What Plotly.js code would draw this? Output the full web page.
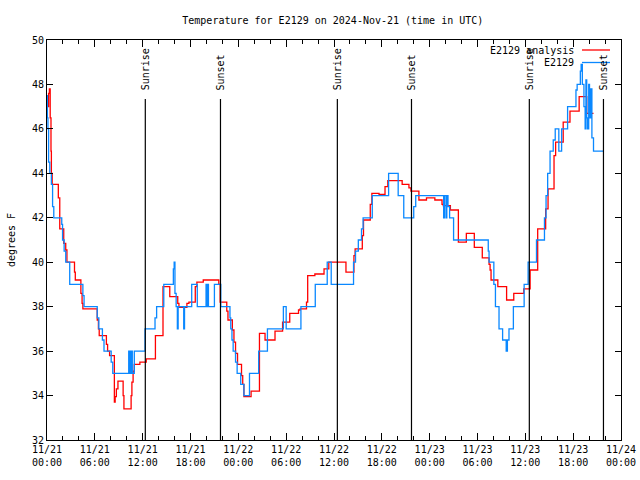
<!DOCTYPE html>
<html>
<head>
<meta charset="utf-8">
<script src="https://cdn.plot.ly/plotly-3.0.1.min.js"></script>
<style>html,body{margin:0;padding:0;background:#fff;}#chart{width:640px;height:480px;}</style>
</head>
<body>
<div id="chart"></div>
<script>
// Hours after 2024-11-21 00:00 UTC and temperatures (deg F), step data
const anaHours = [0.05,0.20,0.30,0.40,0.50,0.55,0.65,1.42,1.60,2.10,2.35,2.50,3.45,3.55,4.25,4.40,4.50,6.30,6.45,6.55,7.45,7.60,7.85,8.45,8.55,8.70,8.90,9.55,9.65,10.55,10.65,10.80,10.95,11.65,12.45,13.60,14.55,15.40,16.40,16.55,17.55,17.80,18.60,18.80,19.60,21.55,21.72,22.55,22.70,23.25,23.45,23.65,23.90,24.40,24.55,24.70,25.60,26.65,27.35,28.60,29.55,30.45,31.55,31.75,32.55,32.70,33.60,34.75,35.35,37.50,38.50,38.65,39.55,39.70,40.55,40.75,41.65,42.40,42.75,44.55,45.40,45.65,46.65,47.60,48.65,49.55,49.70,50.60,51.60,52.60,53.60,54.60,55.45,55.58,55.70,56.55,57.65,58.55,59.80,60.60,61.55,62.55,62.85,63.60,63.80,64.75,65.60,66.75,67.70,68.55];
const anaTempF = [47.0,47.6,47.8,46.5,45.0,44.0,43.5,42.9,41.5,40.85,40.55,40.0,39.55,39.2,38.6,38.15,37.9,37.4,37.0,36.7,36.3,36.0,35.8,33.7,33.95,34.3,34.65,34.0,33.4,34.0,34.6,35.1,35.4,35.5,35.65,36.7,38.9,38.45,38.15,37.97,38.15,38.2,38.9,39.1,39.2,39.0,38.2,37.8,37.4,36.95,36.4,35.9,35.4,34.9,34.5,33.95,34.2,36.8,36.5,36.9,37.3,37.7,37.85,37.9,38.2,39.4,39.47,39.7,40.0,39.55,40.3,40.6,41.2,41.9,42.6,43.1,43.05,43.4,43.67,43.5,43.35,43.2,42.8,42.9,42.8,42.6,42.55,42.35,40.9,41.3,40.67,40.2,39.9,39.65,39.2,38.9,38.3,38.6,38.8,39.65,41.5,42.4,43.3,44.8,45.4,46.3,46.8,47.45,46.7,46.7];

const obsHours = [0.00,0.05,0.12,0.20,0.35,0.55,0.70,0.85,1.85,1.95,2.15,2.35,2.85,4.50,4.65,6.30,6.50,6.95,7.15,8.05,8.25,10.25,10.40,10.55,10.70,10.95,12.30,13.55,13.75,14.65,15.85,15.95,16.05,16.20,16.35,16.45,17.15,17.25,18.15,18.85,19.95,20.05,20.15,20.25,21.00,21.80,22.95,23.05,23.20,23.35,23.65,23.85,24.30,24.70,25.40,26.55,27.65,29.65,30.00,31.85,33.65,35.15,35.65,38.45,38.70,39.05,39.45,39.65,40.80,42.85,44.05,44.75,46.00,46.25,49.75,49.85,50.05,50.15,50.30,50.50,51.00,55.35,55.45,56.05,56.25,56.70,57.15,57.60,57.75,57.95,58.50,59.85,60.35,61.40,62.40,62.60,62.80,63.10,63.50,63.75,64.20,64.55,65.30,66.35,66.50,66.90,67.00,67.15,67.35,67.50,67.60,67.70,67.80,67.95,68.05,68.20,68.35,68.55,69.85];
const obsTempF = [47.5,46.5,46.0,44.5,44.0,43.5,42.5,42.0,41.7,41.0,40.5,40.0,39.0,38.5,38.0,37.5,37.0,36.5,36.0,35.5,35.0,36.0,35.0,36.0,35.0,36.0,37.0,37.5,38.0,39.0,39.7,40.0,38.6,38.0,37.0,38.0,37.0,38.0,39.0,38.0,39.0,38.0,39.0,38.0,39.0,38.0,37.5,37.0,36.5,36.0,35.5,35.0,34.5,34.0,35.0,36.0,37.0,38.0,37.0,38.0,39.0,40.0,39.0,40.0,40.5,41.0,41.5,42.0,43.0,44.0,43.0,42.0,42.5,43.0,42.0,43.0,42.0,43.0,42.5,42.0,41.0,40.5,40.0,39.0,38.0,37.0,36.5,36.0,36.5,37.0,38.0,39.0,40.0,41.0,42.0,43.0,44.0,45.0,45.5,46.0,45.0,46.0,47.0,47.75,48.0,48.6,48.9,48.0,47.0,46.0,48.2,46.5,46.0,48.0,46.5,47.8,45.6,45.0,45.0];

const sunriseHours = [12.33, 36.42, 60.50];
const sunsetHours = [21.76, 45.72, 69.80];

const tickHours = [0,6,12,18,24,30,36,42,48,54,60,66,72];
const tickLabels = ['11/21<br>00:00','11/21<br>06:00','11/21<br>12:00','11/21<br>18:00','11/22<br>00:00','11/22<br>06:00','11/22<br>12:00','11/22<br>18:00','11/23<br>00:00','11/23<br>06:00','11/23<br>12:00','11/23<br>18:00','11/24<br>00:00'];

const seriesNames = ['E2129 analysis', 'E2129'];
const seriesColors = ['#ff0000', '#0a88ff'];

const base = Date.UTC(2024, 10, 21, 0, 0, 0);
function toTime(h) {
  return new Date(base + Math.round(h * 3600000)).toISOString().slice(0, 19).replace('T', ' ');
}

const traces = [
  {x: anaHours.map(toTime), y: anaTempF, type: 'scatter', mode: 'lines',
   line: {shape: 'hv', color: seriesColors[0], width: 1.3}, name: seriesNames[0], hoverinfo: 'skip'},
  {x: obsHours.map(toTime), y: obsTempF, type: 'scatter', mode: 'lines',
   line: {shape: 'hv', color: seriesColors[1], width: 1.3}, name: seriesNames[1], hoverinfo: 'skip'}
];

const shapes = [];
const annotations = [];
const lineTop = (440 - 99) / 400;
const textBottom = (440 - 92) / 400;
sunriseHours.forEach(h => {
  shapes.push({type: 'line', xref: 'x', yref: 'paper', x0: toTime(h), x1: toTime(h), y0: 0, y1: lineTop, line: {color: 'black', width: 1.2}});
  annotations.push({xref: 'x', yref: 'paper', x: toTime(h), y: textBottom, text: 'Sunrise', textangle: -90, showarrow: false, xanchor: 'center', yanchor: 'bottom', font: {size: 10, color: 'black'}});
});
sunsetHours.forEach(h => {
  shapes.push({type: 'line', xref: 'x', yref: 'paper', x0: toTime(h), x1: toTime(h), y0: 0, y1: lineTop, line: {color: 'black', width: 1.2}});
  annotations.push({xref: 'x', yref: 'paper', x: toTime(h), y: textBottom, text: 'Sunset', textangle: -90, showarrow: false, xanchor: 'center', yanchor: 'bottom', font: {size: 10, color: 'black'}});
});

// legend drawn gnuplot-style (text left of sample)
const legY = [(440 - 50) / 400, (440 - 62.5) / 400];
const legTextX = (575 - 47) / 574;
const legX0 = (582 - 47) / 574, legX1 = (610 - 47) / 574;
seriesNames.forEach((n, i) => {
  annotations.push({xref: 'paper', yref: 'paper', x: legTextX, y: legY[i], text: n, showarrow: false, xanchor: 'right', yanchor: 'middle', font: {size: 10, color: 'black'}, borderpad: 0});
  shapes.push({type: 'line', xref: 'paper', yref: 'paper', x0: legX0, x1: legX1, y0: legY[i], y1: legY[i], line: {color: seriesColors[i], width: 1.3}});
});

const layout = {
  width: 640, height: 480,
  margin: {l: 47, r: 19, t: 40, b: 40, pad: 0},
  paper_bgcolor: 'white', plot_bgcolor: 'white',
  font: {family: 'DejaVu Sans Mono, monospace', size: 10, color: 'black'},
  showlegend: false,
  title: {text: 'Temperature for E2129 on 2024-Nov-21 (time in UTC)', x: 0.52, xanchor: 'center', xref: 'container', y: 1 - 20 / 480, yref: 'container', yanchor: 'middle', font: {size: 10, color: 'black'}},
  xaxis: {
    type: 'date', range: [toTime(0), toTime(72)],
    tickmode: 'array', tickvals: tickHours.map(toTime), ticktext: tickLabels,
    ticks: 'inside', ticklen: 7, tickwidth: 1, tickcolor: 'black',
    minor: {tickmode: 'linear', tick0: toTime(0), dtick: 2 * 3600000, ticks: 'inside', ticklen: 4, tickcolor: 'black', showgrid: false},
    showline: true, linecolor: 'black', linewidth: 1, mirror: 'allticks',
    showgrid: false, zeroline: false, fixedrange: true,
    tickfont: {size: 10, color: 'black'}
  },
  yaxis: {
    range: [32, 50], tickmode: 'linear', tick0: 32, dtick: 2,
    ticks: 'inside', ticklen: 6, tickwidth: 1, tickcolor: 'black',
    showline: true, linecolor: 'black', linewidth: 1, mirror: 'allticks',
    showgrid: false, zeroline: false, fixedrange: true,
    tickfont: {size: 10, color: 'black'},
    title: {text: 'degrees F', standoff: 14, font: {size: 10, color: 'black'}}
  },
  shapes: shapes,
  annotations: annotations
};

Plotly.newPlot('chart', traces, layout, {displayModeBar: false, staticPlot: true});
</script>
</body>
</html>
